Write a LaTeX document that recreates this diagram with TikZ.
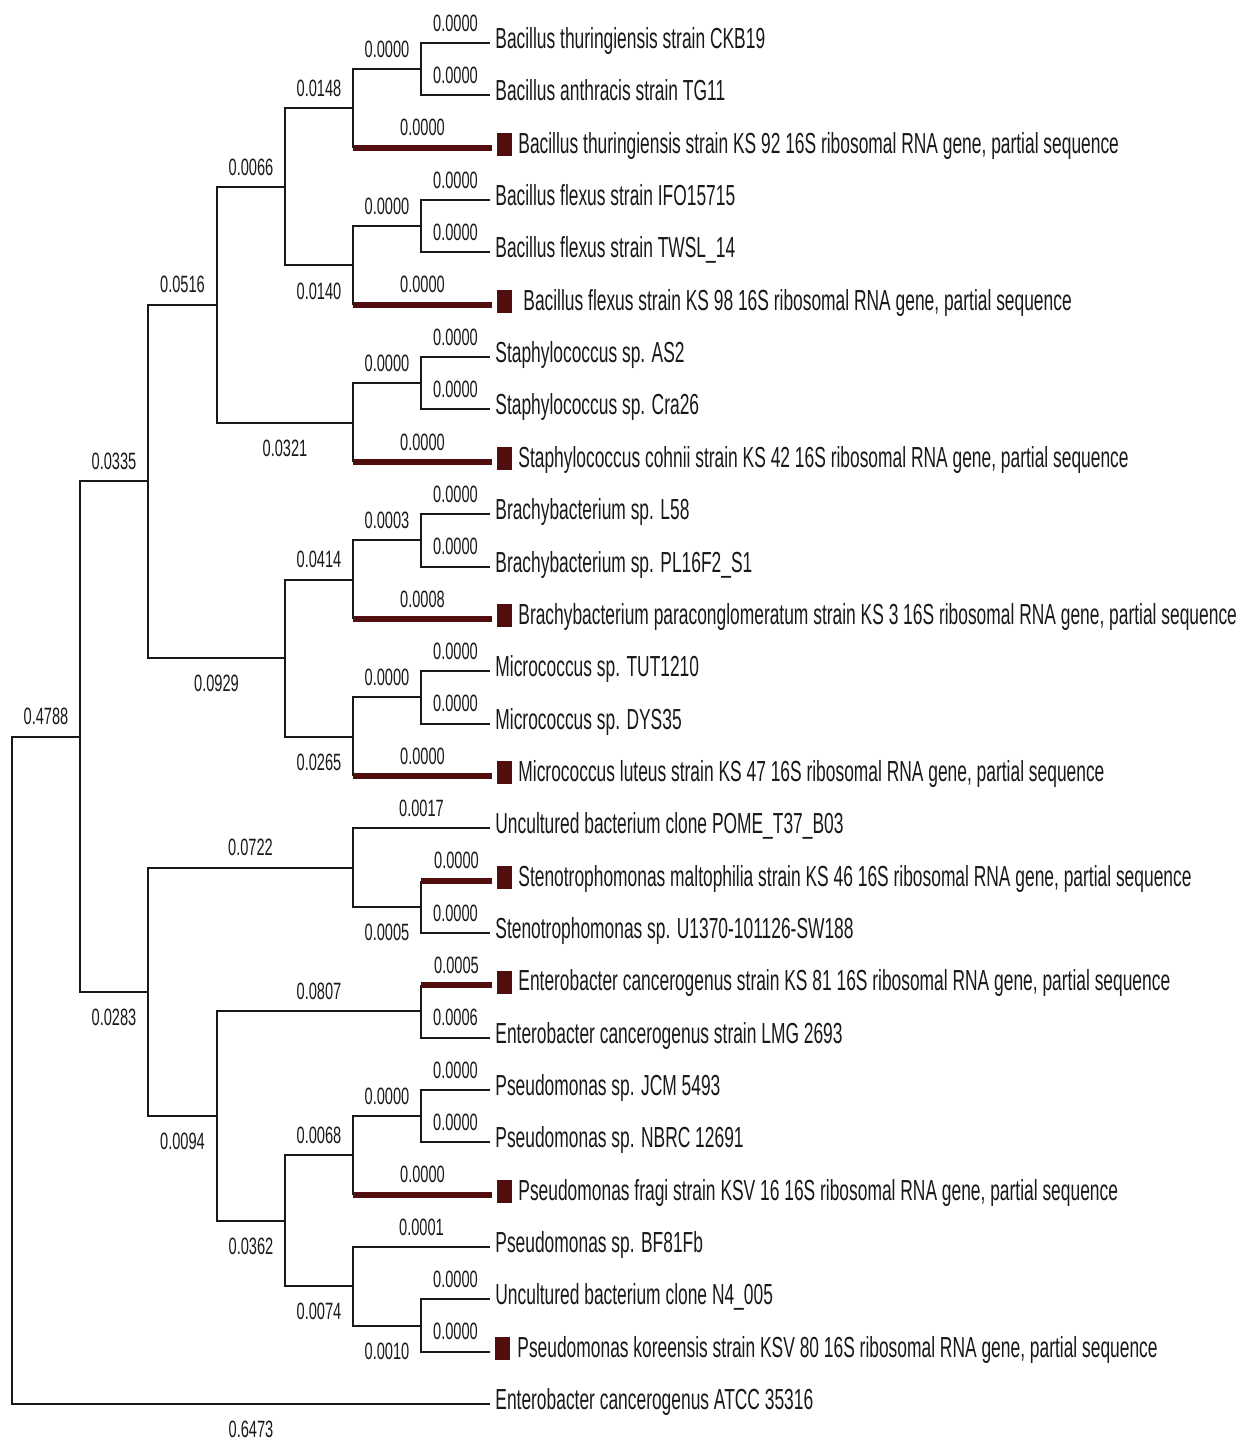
\documentclass[tikz,border=0pt]{standalone}
\usepackage{fontspec}
\usetikzlibrary{calc}
\newfontfamily\labfont{Liberation Sans}[FakeStretch=0.6]
\newfontfamily\numfont{Liberation Sans}[FakeStretch=0.62]
\definecolor{maroon}{RGB}{80,14,14}
\definecolor{ink}{RGB}{25,25,25}
\tikzset{
  br/.style={draw=ink, line width=1pt},
  thk/.style={draw=maroon, line width=3pt},
  lab/.style={anchor=base west, inner sep=0pt, yshift=-2.75pt, font=\labfont\fontsize{14.5}{16}\selectfont, text=ink},
  numa/.style={anchor=base, inner sep=0pt, yshift=5.9pt, font=\numfont\fontsize{11.8}{13}\selectfont, text=ink},
  numb/.style={anchor=base, inner sep=0pt, yshift=-16.8pt, font=\numfont\fontsize{11.8}{13}\selectfont, text=ink},
  sq/.style={fill=maroon, minimum width=7.5pt, minimum height=11.5pt, inner sep=0pt, yshift=1.5pt},
}
\begin{document}
\begin{tikzpicture}[x=0.5pt, y=-0.5pt]
\useasboundingbox (0,0) rectangle (1247,1441);
\fill[white] (0,0) rectangle (1247,1441);
% leaf tips
\coordinate (t0) at (490,43.0);
\coordinate (t1) at (490,95.35);
\coordinate (t2) at (492,147.7);
\coordinate (t3) at (490,200.05);
\coordinate (t4) at (490,252.4);
\coordinate (t5) at (492,304.75);
\coordinate (t6) at (490,357.1);
\coordinate (t7) at (490,409.45);
\coordinate (t8) at (492,461.8);
\coordinate (t9) at (490,514.15);
\coordinate (t10) at (490,566.5);
\coordinate (t11) at (492,618.85);
\coordinate (t12) at (490,671.2);
\coordinate (t13) at (490,723.55);
\coordinate (t14) at (492,775.9);
\coordinate (t15) at (490,828.25);
\coordinate (t16) at (492,880.6);
\coordinate (t17) at (490,932.95);
\coordinate (t18) at (492,985.3);
\coordinate (t19) at (490,1037.65);
\coordinate (t20) at (490,1090.0);
\coordinate (t21) at (490,1142.35);
\coordinate (t22) at (492,1194.7);
\coordinate (t23) at (490,1247.05);
\coordinate (t24) at (490,1299.4);
\coordinate (t25) at (490,1351.75);
\coordinate (t26) at (490,1404.1);
% internal nodes
\coordinate (A) at (421,69.18);
\coordinate (B) at (353,108.44);
\coordinate (E) at (421,226.23);
\coordinate (D) at (353,265.49);
\coordinate (C) at (285,186.96);
\coordinate (H) at (421,383.28);
\coordinate (G) at (353,422.54);
\coordinate (F) at (217,304.75);
\coordinate (L) at (421,540.33);
\coordinate (K) at (353,579.59);
\coordinate (N) at (421,697.38);
\coordinate (M) at (353,736.64);
\coordinate (J) at (285,658.11);
\coordinate (I) at (148,481.43);
\coordinate (S) at (421,906.78);
\coordinate (Q) at (353,867.51);
\coordinate (T) at (421,1011.48);
\coordinate (W) at (421,1116.18);
\coordinate (V) at (353,1155.44);
\coordinate (Y) at (421,1325.58);
\coordinate (X) at (353,1286.31);
\coordinate (U) at (285,1220.88);
\coordinate (R) at (217,1116.18);
\coordinate (P) at (148,991.85);
\coordinate (O) at (80,736.64);
\coordinate (Rt) at (12,1070.37);
% branches
\draw[br] (A) |- (t0) node[numa,pos=0.75] {0.0000};
\draw[br] (A) |- (t1) node[numa,pos=0.75] {0.0000};
\draw[br] (B) |- (A) node[numa,pos=0.75] {0.0000};
\draw[br] (B) -- (B |- t2);
\draw[thk] (B |- t2) -- (t2) node[numa,midway] {0.0000};
\draw[br] (E) |- (t3) node[numa,pos=0.75] {0.0000};
\draw[br] (E) |- (t4) node[numa,pos=0.75] {0.0000};
\draw[br] (D) |- (E) node[numa,pos=0.75] {0.0000};
\draw[br] (D) -- (D |- t5);
\draw[thk] (D |- t5) -- (t5) node[numa,midway] {0.0000};
\draw[br] (C) |- (B) node[numa,pos=0.75] {0.0148};
\draw[br] (C) |- (D) node[numb,pos=0.75] {0.0140};
\draw[br] (H) |- (t6) node[numa,pos=0.75] {0.0000};
\draw[br] (H) |- (t7) node[numa,pos=0.75] {0.0000};
\draw[br] (G) |- (H) node[numa,pos=0.75] {0.0000};
\draw[br] (G) -- (G |- t8);
\draw[thk] (G |- t8) -- (t8) node[numa,midway] {0.0000};
\draw[br] (F) |- (C) node[numa,pos=0.75] {0.0066};
\draw[br] (F) |- (G) node[numb,pos=0.75] {0.0321};
\draw[br] (L) |- (t9) node[numa,pos=0.75] {0.0000};
\draw[br] (L) |- (t10) node[numa,pos=0.75] {0.0000};
\draw[br] (K) |- (L) node[numa,pos=0.75] {0.0003};
\draw[br] (K) -- (K |- t11);
\draw[thk] (K |- t11) -- (t11) node[numa,midway] {0.0008};
\draw[br] (N) |- (t12) node[numa,pos=0.75] {0.0000};
\draw[br] (N) |- (t13) node[numa,pos=0.75] {0.0000};
\draw[br] (M) |- (N) node[numa,pos=0.75] {0.0000};
\draw[br] (M) -- (M |- t14);
\draw[thk] (M |- t14) -- (t14) node[numa,midway] {0.0000};
\draw[br] (J) |- (K) node[numa,pos=0.75] {0.0414};
\draw[br] (J) |- (M) node[numb,pos=0.75] {0.0265};
\draw[br] (I) |- (F) node[numa,pos=0.75] {0.0516};
\draw[br] (I) |- (J) node[numb,pos=0.75] {0.0929};
\draw[br] (S) -- (S |- t16);
\draw[thk] (S |- t16) -- (t16) node[numa,midway] {0.0000};
\draw[br] (S) |- (t17) node[numa,pos=0.75] {0.0000};
\draw[br] (Q) |- (t15) node[numa,pos=0.75] {0.0017};
\draw[br] (Q) |- (S) node[numb,pos=0.75] {0.0005};
\draw[br] (T) -- (T |- t18);
\draw[thk] (T |- t18) -- (t18) node[numa,midway] {0.0005};
\draw[br] (T) |- (t19) node[numa,pos=0.75] {0.0006};
\draw[br] (W) |- (t20) node[numa,pos=0.75] {0.0000};
\draw[br] (W) |- (t21) node[numa,pos=0.75] {0.0000};
\draw[br] (V) |- (W) node[numa,pos=0.75] {0.0000};
\draw[br] (V) -- (V |- t22);
\draw[thk] (V |- t22) -- (t22) node[numa,midway] {0.0000};
\draw[br] (Y) |- (t24) node[numa,pos=0.75] {0.0000};
\draw[br] (Y) |- (t25) node[numa,pos=0.75] {0.0000};
\draw[br] (X) |- (t23) node[numa,pos=0.75] {0.0001};
\draw[br] (X) |- (Y) node[numb,pos=0.75] {0.0010};
\draw[br] (U) |- (V) node[numa,pos=0.75] {0.0068};
\draw[br] (U) |- (X) node[numb,pos=0.75] {0.0074};
\draw[br] (R) |- (T) node[numa,pos=0.75] {0.0807};
\draw[br] (R) |- (U) node[numb,pos=0.75] {0.0362};
\draw[br] (P) |- (Q) node[numa,pos=0.75] {0.0722};
\draw[br] (P) |- (R) node[numb,pos=0.75] {0.0094};
\draw[br] (O) |- (I) node[numa,pos=0.75] {0.0335};
\draw[br] (O) |- (P) node[numb,pos=0.75] {0.0283};
\draw[br] (Rt) |- (O) node[numa,pos=0.75] {0.4788};
\draw[br] (Rt) |- (t26) node[numb,pos=0.75] {0.6473};
% squares
\foreach \i in {2,5,8,11,14,16,18,22,25} {
  \node[sq] (s\i) at ($(t\i)+(12.5,0)$) {};
}
% leaf labels
\node[lab] (n0) at ($(t0)+(5,0)$) {Bacillus thuringiensis strain CKB19};
\node[lab] (n1) at ($(t1)+(5,0)$) {Bacillus anthracis strain TG11};
\node[lab] (n2) at ($(t2)+(26,0)$) {Bacillus thuringiensis strain KS 92 16S ribosomal RNA gene, partial sequence};
\node[lab] (n3) at ($(t3)+(5,0)$) {Bacillus flexus strain IFO15715};
\node[lab] (n4) at ($(t4)+(5,0)$) {Bacillus flexus strain TWSL\_14};
\node[lab] (n5) at ($(t5)+(31,0)$) {Bacillus flexus strain KS 98 16S ribosomal RNA gene, partial sequence};
\node[lab] (n6) at ($(t6)+(5,0)$) {Staphylococcus sp. AS2};
\node[lab] (n7) at ($(t7)+(5,0)$) {Staphylococcus sp. Cra26};
\node[lab] (n8) at ($(t8)+(26,0)$) {Staphylococcus cohnii strain KS 42 16S ribosomal RNA gene, partial sequence};
\node[lab] (n9) at ($(t9)+(5,0)$) {Brachybacterium sp. L58};
\node[lab] (n10) at ($(t10)+(5,0)$) {Brachybacterium sp. PL16F2\_S1};
\node[lab] (n11) at ($(t11)+(26,0)$) {Brachybacterium paraconglomeratum strain KS 3 16S ribosomal RNA gene, partial sequence};
\node[lab] (n12) at ($(t12)+(5,0)$) {Micrococcus sp. TUT1210};
\node[lab] (n13) at ($(t13)+(5,0)$) {Micrococcus sp. DYS35};
\node[lab] (n14) at ($(t14)+(26,0)$) {Micrococcus luteus strain KS 47 16S ribosomal RNA gene, partial sequence};
\node[lab] (n15) at ($(t15)+(5,0)$) {Uncultured bacterium clone POME\_T37\_B03};
\node[lab] (n16) at ($(t16)+(26,0)$) {Stenotrophomonas maltophilia strain KS 46 16S ribosomal RNA gene, partial sequence};
\node[lab] (n17) at ($(t17)+(5,0)$) {Stenotrophomonas sp. U1370-101126-SW188};
\node[lab] (n18) at ($(t18)+(26,0)$) {Enterobacter cancerogenus strain KS 81 16S ribosomal RNA gene, partial sequence};
\node[lab] (n19) at ($(t19)+(5,0)$) {Enterobacter cancerogenus strain LMG 2693};
\node[lab] (n20) at ($(t20)+(5,0)$) {Pseudomonas sp. JCM 5493};
\node[lab] (n21) at ($(t21)+(5,0)$) {Pseudomonas sp. NBRC 12691};
\node[lab] (n22) at ($(t22)+(26,0)$) {Pseudomonas fragi strain KSV 16 16S ribosomal RNA gene, partial sequence};
\node[lab] (n23) at ($(t23)+(5,0)$) {Pseudomonas sp. BF81Fb};
\node[lab] (n24) at ($(t24)+(5,0)$) {Uncultured bacterium clone N4\_005};
\node[lab] (n25) at ($(t25)+(27,0)$) {Pseudomonas koreensis strain KSV 80 16S ribosomal RNA gene, partial sequence};
\node[lab] (n26) at ($(t26)+(5,0)$) {Enterobacter cancerogenus ATCC 35316};
\end{tikzpicture}
\end{document}
